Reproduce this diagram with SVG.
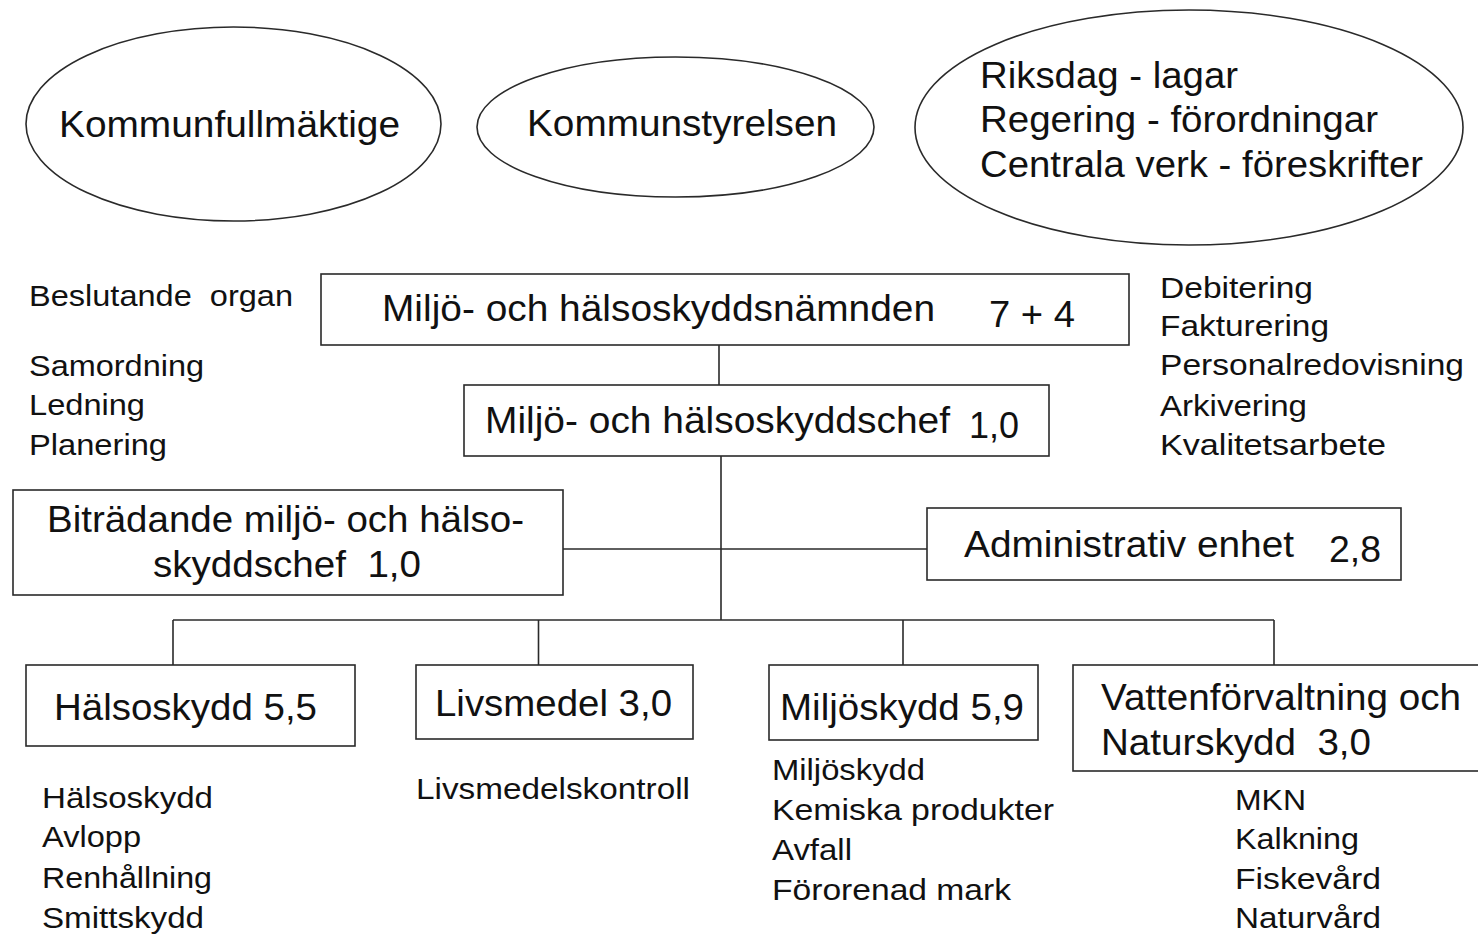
<svg xmlns="http://www.w3.org/2000/svg" width="1478" height="934" viewBox="0 0 1478 934">
<style>
text{font-family:"Liberation Sans",Arial,sans-serif;fill:#111}
.big{font-size:36px}
.sm{font-size:30px}
.shape{fill:#fff;stroke:#2a2a2a;stroke-width:1.6}
.conn{stroke:#2a2a2a;stroke-width:1.6;fill:none}
</style>
<rect width="1478" height="934" fill="#fff"/>
<g id="connectors">
<line class="conn" x1="719" y1="345" x2="719" y2="385"/>
<line class="conn" x1="721" y1="456" x2="721" y2="620"/>
<line class="conn" x1="563" y1="549" x2="927" y2="549"/>
<line class="conn" x1="173" y1="620" x2="1274" y2="620"/>
<line class="conn" x1="173" y1="620" x2="173" y2="665"/>
<line class="conn" x1="538.5" y1="620" x2="538.5" y2="665"/>
<line class="conn" x1="903" y1="620" x2="903" y2="665"/>
<line class="conn" x1="1274" y1="620" x2="1274" y2="665"/>
</g>
<g id="kommunfullmaktige">
<ellipse class="shape" cx="233.5" cy="124" rx="207.5" ry="97"/>
<text class="big" x="59" y="137" textLength="341" lengthAdjust="spacingAndGlyphs">Kommunfullmäktige</text>
</g>
<g id="kommunstyrelsen">
<ellipse class="shape" cx="675.5" cy="127" rx="198.5" ry="70"/>
<text class="big" x="527" y="136" textLength="310" lengthAdjust="spacingAndGlyphs">Kommunstyrelsen</text>
</g>
<g id="riksdag">
<ellipse class="shape" cx="1189" cy="127.5" rx="274" ry="117.5"/>
<text class="big" x="980" y="88" textLength="258" lengthAdjust="spacingAndGlyphs">Riksdag - lagar</text>
<text class="big" x="980" y="132" textLength="398" lengthAdjust="spacingAndGlyphs">Regering - förordningar</text>
<text class="big" x="980" y="177" textLength="443" lengthAdjust="spacingAndGlyphs">Centrala verk - föreskrifter</text>
</g>
<g id="namnden">
<rect class="shape" x="321" y="274" width="808" height="71"/>
<text class="big" x="382" y="321" textLength="553" lengthAdjust="spacingAndGlyphs">Miljö- och hälsoskyddsnämnden</text>
<text class="big" x="989" y="327" textLength="86" lengthAdjust="spacingAndGlyphs">7 + 4</text>
</g>
<g id="chef">
<rect class="shape" x="464" y="385" width="585" height="71"/>
<text class="big" x="485" y="433" textLength="465" lengthAdjust="spacingAndGlyphs">Miljö- och hälsoskyddschef</text>
<text class="big" x="969" y="438" textLength="50" lengthAdjust="spacingAndGlyphs">1,0</text>
</g>
<g id="bitradande">
<rect class="shape" x="13" y="490" width="550" height="105"/>
<text class="big" x="47" y="532" textLength="477" lengthAdjust="spacingAndGlyphs">Biträdande miljö- och hälso-</text>
<text class="big" x="153" y="577" textLength="268" lengthAdjust="spacingAndGlyphs">skyddschef&#160; 1,0</text>
</g>
<g id="administrativ">
<rect class="shape" x="927" y="508" width="474" height="72"/>
<text class="big" x="964" y="557" textLength="330" lengthAdjust="spacingAndGlyphs">Administrativ enhet</text>
<text class="big" x="1329" y="562" textLength="52" lengthAdjust="spacingAndGlyphs">2,8</text>
</g>
<g id="halsoskydd">
<rect class="shape" x="26" y="665" width="329" height="81"/>
<text class="big" x="54" y="720" textLength="263" lengthAdjust="spacingAndGlyphs">Hälsoskydd 5,5</text>
</g>
<g id="livsmedel">
<rect class="shape" x="416" y="665" width="277" height="74"/>
<text class="big" x="435" y="716" textLength="237" lengthAdjust="spacingAndGlyphs">Livsmedel 3,0</text>
</g>
<g id="miljoskydd">
<rect class="shape" x="769" y="665" width="269" height="75"/>
<text class="big" x="780" y="720" textLength="244" lengthAdjust="spacingAndGlyphs">Miljöskydd 5,9</text>
</g>
<g id="vatten">
<rect class="shape" x="1073" y="665" width="420" height="106"/>
<text class="big" x="1101" y="710" textLength="360" lengthAdjust="spacingAndGlyphs">Vattenförvaltning och</text>
<text class="big" x="1101" y="755" textLength="270" lengthAdjust="spacingAndGlyphs">Naturskydd&#160; 3,0</text>
</g>
<g id="left-notes">
<text class="sm" x="29" y="306" textLength="264" lengthAdjust="spacingAndGlyphs">Beslutande&#160; organ</text>
<text class="sm" x="29" y="376" textLength="175" lengthAdjust="spacingAndGlyphs">Samordning</text>
<text class="sm" x="29" y="415" textLength="116" lengthAdjust="spacingAndGlyphs">Ledning</text>
<text class="sm" x="29" y="455" textLength="138" lengthAdjust="spacingAndGlyphs">Planering</text>
</g>
<g id="right-notes">
<text class="sm" x="1160" y="298" textLength="153" lengthAdjust="spacingAndGlyphs">Debitering</text>
<text class="sm" x="1160" y="336" textLength="169" lengthAdjust="spacingAndGlyphs">Fakturering</text>
<text class="sm" x="1160" y="375" textLength="304" lengthAdjust="spacingAndGlyphs">Personalredovisning</text>
<text class="sm" x="1160" y="416" textLength="147" lengthAdjust="spacingAndGlyphs">Arkivering</text>
<text class="sm" x="1160" y="455" textLength="226" lengthAdjust="spacingAndGlyphs">Kvalitetsarbete</text>
</g>
<g id="halsoskydd-notes">
<text class="sm" x="42" y="808" textLength="171" lengthAdjust="spacingAndGlyphs">Hälsoskydd</text>
<text class="sm" x="42" y="847" textLength="99" lengthAdjust="spacingAndGlyphs">Avlopp</text>
<text class="sm" x="42" y="888" textLength="170" lengthAdjust="spacingAndGlyphs">Renhållning</text>
<text class="sm" x="42" y="928" textLength="162" lengthAdjust="spacingAndGlyphs">Smittskydd</text>
</g>
<g id="livsmedel-notes">
<text class="sm" x="416" y="799" textLength="274" lengthAdjust="spacingAndGlyphs">Livsmedelskontroll</text>
</g>
<g id="miljoskydd-notes">
<text class="sm" x="772" y="780" textLength="153" lengthAdjust="spacingAndGlyphs">Miljöskydd</text>
<text class="sm" x="772" y="820" textLength="282" lengthAdjust="spacingAndGlyphs">Kemiska produkter</text>
<text class="sm" x="772" y="860" textLength="80" lengthAdjust="spacingAndGlyphs">Avfall</text>
<text class="sm" x="772" y="900" textLength="239" lengthAdjust="spacingAndGlyphs">Förorenad mark</text>
</g>
<g id="vatten-notes">
<text class="sm" x="1235" y="810" textLength="71" lengthAdjust="spacingAndGlyphs">MKN</text>
<text class="sm" x="1235" y="849" textLength="124" lengthAdjust="spacingAndGlyphs">Kalkning</text>
<text class="sm" x="1235" y="889" textLength="146" lengthAdjust="spacingAndGlyphs">Fiskevård</text>
<text class="sm" x="1235" y="928" textLength="146" lengthAdjust="spacingAndGlyphs">Naturvård</text>
</g>
</svg>
